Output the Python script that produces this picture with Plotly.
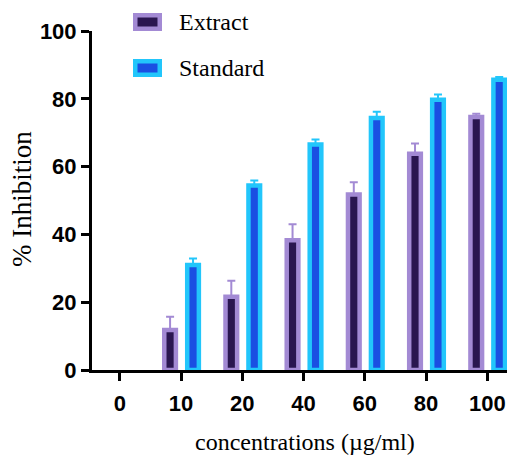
import plotly.graph_objects as go

categories = ["0", "10", "20", "40", "60", "80", "100"]
extract_vals = [None, 11.8, 21.6, 38.3, 51.8, 63.8, 74.6]
extract_err = [0, 3.9, 4.7, 4.7, 3.6, 3.0, 1.0]
standard_vals = [None, 31.0, 54.4, 66.5, 74.3, 79.7, 85.6]
standard_err = [0, 1.9, 1.5, 1.5, 1.9, 1.6, 0.8]

EX_LINE, EX_FILL = "#a38ad4", "#2a1650"
ST_LINE, ST_FILL = "#22c6fb", "#1a4fe2"

# page offset (body margin) of the rendered figure
OFF = 8
PAGE_W, PAGE_H = 515, 458
W, H = PAGE_W - OFF, PAGE_H - OFF
# plot area in page pixels
X0, X1, Y0, Y1 = 92, 513, 31, 370
ML, MR, MT, MB = X0 - OFF, W - (X1 - OFF), Y0 - OFF, H - (Y1 - OFF)
PW, PH = X1 - X0, Y1 - Y0

def px(x):
    return (x - X0) / PW

def py(y):
    return 1 - (y - Y0) / PH

bw = 0.19
fig = go.Figure()
fig.add_trace(go.Bar(
    x=categories, y=extract_vals, name="Extract", width=bw, offset=-0.18 - bw / 2,
    marker=dict(color=EX_FILL, line=dict(color=EX_LINE, width=4.5)),
    error_y=dict(type="data", array=extract_err, arrayminus=[0] * 7, symmetric=False,
                 color=EX_LINE, thickness=2, width=4),
))
fig.add_trace(go.Bar(
    x=categories, y=standard_vals, name="Standard", width=bw, offset=0.195 - bw / 2,
    marker=dict(color=ST_FILL, line=dict(color=ST_LINE, width=4.5)),
    error_y=dict(type="data", array=standard_err, arrayminus=[0] * 7, symmetric=False,
                 color=ST_LINE, thickness=2, width=4),
))

tickfont = dict(family="Liberation Sans", size=22, color="black", weight="bold")
fig.update_layout(
    width=W, height=H,
    margin=dict(l=ML, r=MR, t=MT, b=MB),
    paper_bgcolor="white", plot_bgcolor="white",
    showlegend=False,
    xaxis=dict(type="category", range=[-0.455, 6.42], showline=True, linecolor="black",
               linewidth=3, ticks="outside", ticklen=8, tickwidth=3, tickcolor="black",
               tickfont=tickfont, showgrid=False, zeroline=False, fixedrange=True,
               ticklabelstandoff=4),
    yaxis=dict(range=[0, 100], tickvals=[0, 20, 40, 60, 80, 100], showline=True,
               linecolor="black", linewidth=3, ticks="outside", ticklen=8, tickwidth=3,
               tickcolor="black", tickfont=tickfont, showgrid=False, zeroline=False),
)

# axis titles
fig.add_annotation(text="concentrations (µg/ml)", xref="paper", yref="paper",
                   x=px(304.5), y=py(442), showarrow=False, xanchor="center", yanchor="middle",
                   font=dict(family="Liberation Serif", size=24, color="black"))
fig.add_annotation(text="% Inhibition", xref="paper", yref="paper", textangle=-90,
                   x=px(22), y=py(199), showarrow=False, xanchor="center", yanchor="middle",
                   font=dict(family="Liberation Serif", size=27, color="black"))

# legend
for (y0, y1, line, fill, label) in [(13, 31, EX_LINE, EX_FILL, "Extract"),
                                     (59, 77, ST_LINE, ST_FILL, "Standard")]:
    fig.add_shape(type="rect", xref="paper", yref="paper", x0=px(133), x1=px(162),
                  y0=py(y1), y1=py(y0), fillcolor=line, line_width=0, layer="above")
    fig.add_shape(type="rect", xref="paper", yref="paper", x0=px(137.5), x1=px(157.5),
                  y0=py(y1 - 4.5), y1=py(y0 + 4.5), fillcolor=fill, line_width=0, layer="above")
    fig.add_annotation(text=label, xref="paper", yref="paper", x=px(177), y=py((y0 + y1) / 2),
                       showarrow=False, xanchor="left", yanchor="middle",
                       font=dict(family="Liberation Serif", size=24, color="black"))

fig.write_html("out.html")
